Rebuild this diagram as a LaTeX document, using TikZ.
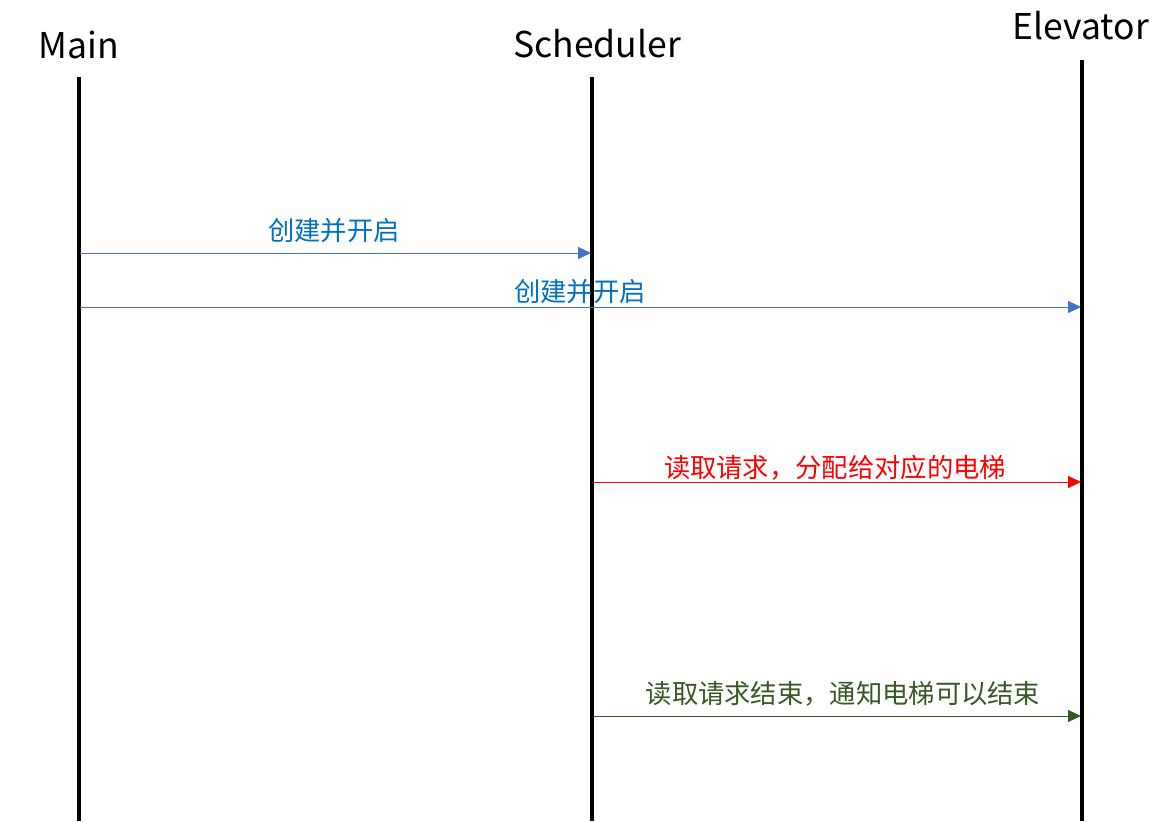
\documentclass[tikz,border=0pt]{standalone}
\usepackage{fontspec}
\setmainfont{Noto Sans CJK SC}
\usetikzlibrary{arrows.meta}
\definecolor{bluetxt}{RGB}{0,112,192}
\definecolor{blueln}{RGB}{68,114,196}
\definecolor{greenln}{RGB}{56,87,35}
\tikzset{
  x=1pt, y=-1pt,
  lifeline/.style={line width=3.2pt, black},
  head/.style={font=\fontsize{35.5}{35.5}\selectfont, inner sep=0pt, anchor=base},
  msg/.style={line width=0.9pt, -{Triangle[length=13pt,width=12pt]}},
  lbl/.style={font=\fontsize{26.3}{26.3}\selectfont, inner sep=0pt, anchor=base}
}
\begin{document}
\begin{tikzpicture}
\useasboundingbox (0,0) rectangle (1174,821);
% heads
\node[head] (main) at (79,59) {Main};
\node[head] (sched) at (597,58) {Scheduler};
\node[head] (elev) at (1081,40) {Elevator};
% lifelines
\coordinate (mainTop) at (79,77);
\coordinate (mainBot) at (79,821);
\coordinate (schTop) at (592,77);
\coordinate (schBot) at (592,821);
\coordinate (elTop) at (1082,60);
\coordinate (elBot) at (1082,821);
\draw[lifeline] (mainTop) -- (mainBot);
\draw[lifeline] (schTop) -- (schBot);
\draw[lifeline] (elTop) -- (elBot);
% message points
\coordinate (m1) at (80,253);
\coordinate (s1) at (591,253);
\coordinate (m2) at (80,307);
\coordinate (e2) at (1081,307);
\coordinate (s3) at (593,482);
\coordinate (e3) at (1081,482);
\coordinate (s4) at (593,716);
\coordinate (e4) at (1081,716);
\draw[msg, blueln] (m1) -- (s1);
\draw[msg, blueln] (m2) -- (e2);
\draw[msg, red] (s3) -- (e3);
\draw[msg, greenln] (s4) -- (e4);
% labels
\node[lbl, text=bluetxt] (l1) at (334,240) {创建并开启};
\node[lbl, text=bluetxt] (l2) at (580,301) {创建并开启};
\node[lbl, text=red] (l3) at (835,477) {读取请求，分配给对应的电梯};
\node[lbl, text=greenln] (l4) at (843,703) {读取请求结束，通知电梯可以结束};
\end{tikzpicture}
\end{document}
